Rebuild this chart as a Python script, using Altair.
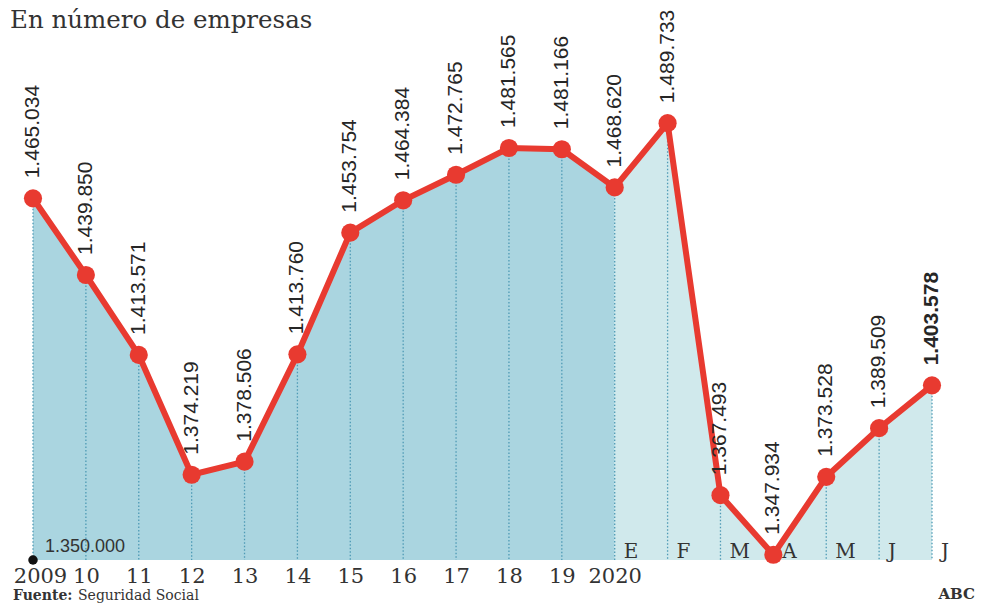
import altair as alt
import pandas as pd

TITLE = "En número de empresas"
YEAR_LABELS = ["2009", "10", "11", "12", "13", "14", "15", "16", "17", "18", "19", "2020"]
MONTH_LABELS = ["E", "F", "M", "A", "M", "J", "J"]
VALUES = [1465034, 1439850, 1413571, 1374219, 1378506, 1413760, 1453754,
          1464384, 1472765, 1481565, 1481166, 1468620, 1489733, 1367493,
          1347934, 1373528, 1389509, 1403578]
BASE_LABEL = "1.350.000"
SOURCE_BOLD = "Fuente:"
SOURCE = "Seguridad Social"
BRAND = "ABC"

YMIN = 1346200
YMAX = 1517050
N = len(VALUES)
FIRST_MONTH = len(YEAR_LABELS) - 1

RED = "#e83a30"
DARK = "#aad5e0"
LIGHT = "#d0e9ec"
GRID = "#4e9ab5"
TXT = "#262626"

df = pd.DataFrame({
    "idx": list(range(N)),
    "value": VALUES,
    "label": [f"{v:,}".replace(",", ".") for v in VALUES],
    "bold": [i == N - 1 for i in range(N)],
})
months = pd.DataFrame({
    "idx": list(range(FIRST_MONTH, FIRST_MONTH + len(MONTH_LABELS))),
    "m": MONTH_LABELS,
})

label_expr = "[" + ",".join(f"'{s}'" for s in YEAR_LABELS) + "][datum.value]"

x = alt.X("idx:Q",
          scale=alt.Scale(domain=[0, N - 1], nice=False, zero=False),
          axis=alt.Axis(values=list(range(len(YEAR_LABELS))), labelExpr=label_expr,
                        title=None, domain=False, ticks=False, tickSize=0, grid=False,
                        labelFont="DejaVu Serif", labelFontSize=21, labelColor="#333333",
                        labelPadding=5, labelFlush=False, labelAlign="center",
                        labelOffset={"condition": {"test": "datum.value === 0", "value": 7}, "value": 0}))
y = alt.Y("value:Q", scale=alt.Scale(domain=[YMIN, YMAX], nice=False, zero=False), axis=None)

base = alt.Chart(df)

dark_area = base.transform_filter(alt.datum.idx <= FIRST_MONTH).mark_area(color=DARK).encode(
    x=x, y=y, y2=alt.datum(YMIN))
light_area = base.transform_filter(alt.datum.idx >= FIRST_MONTH).mark_area(color=LIGHT).encode(
    x=x, y=y, y2=alt.datum(YMIN))
rules = base.mark_rule(color=GRID, strokeWidth=1.3, strokeDash=[1.5, 2]).encode(
    x=x, y=y, y2=alt.datum(YMIN))
line = base.mark_line(color=RED, strokeWidth=6).encode(x=x, y=y)
points = base.mark_circle(color=RED, size=330, opacity=1).encode(x=x, y=y)
labels = base.transform_filter(alt.datum.bold == False).mark_text(
    angle=270, align="left", baseline="middle", dx=20,
    font="Liberation Sans", fontSize=21, color=TXT).encode(x=x, y=y, text="label:N")
labels_bold = base.transform_filter(alt.datum.bold == True).mark_text(
    angle=270, align="left", baseline="middle", dx=20, fontWeight="bold",
    font="Liberation Sans", fontSize=21, color=TXT).encode(x=x, y=y, text="label:N")
month_labels = alt.Chart(months).mark_text(
    align="left", baseline="alphabetic", dx=9, dy=-2,
    font="DejaVu Serif", fontSize=20, color="#333333").encode(
    x=x, y=alt.datum(YMIN), text="m:N")

one = pd.DataFrame({"t": [BASE_LABEL]})
base_label = alt.Chart(one).mark_text(
    align="left", baseline="alphabetic", dx=12, dy=-8,
    font="Liberation Sans", fontSize=18, color="#333333").encode(
    x=alt.datum(0), y=alt.datum(YMIN), text="t:N")
dot = alt.Chart(one).mark_circle(color="#111111", size=90, opacity=1).encode(
    x=alt.datum(0), y=alt.datum(YMIN))

title = alt.Chart(pd.DataFrame({"t": [TITLE]})).mark_text(
    align="left", baseline="alphabetic", font="DejaVu Serif", fontSize=24.5,
    color="#333333").encode(x=alt.value(-23), y=alt.value(-12), text="t:N")
src_b = alt.Chart(pd.DataFrame({"t": [SOURCE_BOLD]})).mark_text(
    align="left", baseline="alphabetic", font="DejaVu Serif", fontSize=14,
    fontWeight="bold", color="#333333").encode(x=alt.value(-20), y=alt.value(560), text="t:N")
src = alt.Chart(pd.DataFrame({"t": [SOURCE]})).mark_text(
    align="left", baseline="alphabetic", font="DejaVu Serif", fontSize=14,
    color="#333333").encode(x=alt.value(45), y=alt.value(560), text="t:N")
brand = alt.Chart(pd.DataFrame({"t": [BRAND]})).mark_text(
    align="right", baseline="alphabetic", font="DejaVu Serif", fontSize=15,
    fontWeight="bold", color="#333333").encode(x=alt.value(942), y=alt.value(559), text="t:N")

chart = alt.layer(
    dark_area, light_area, rules, line, points, labels, labels_bold,
    month_labels, base_label, dot, title, src_b, src, brand
).properties(
    width=899, height=520,
    autosize=alt.AutoSizeParams(type="none"),
    padding={"left": 25, "top": 32, "right": 45, "bottom": 43},
).configure_view(stroke="transparent")

chart.save("out.html", embed_options={"renderer": "svg", "actions": False})
